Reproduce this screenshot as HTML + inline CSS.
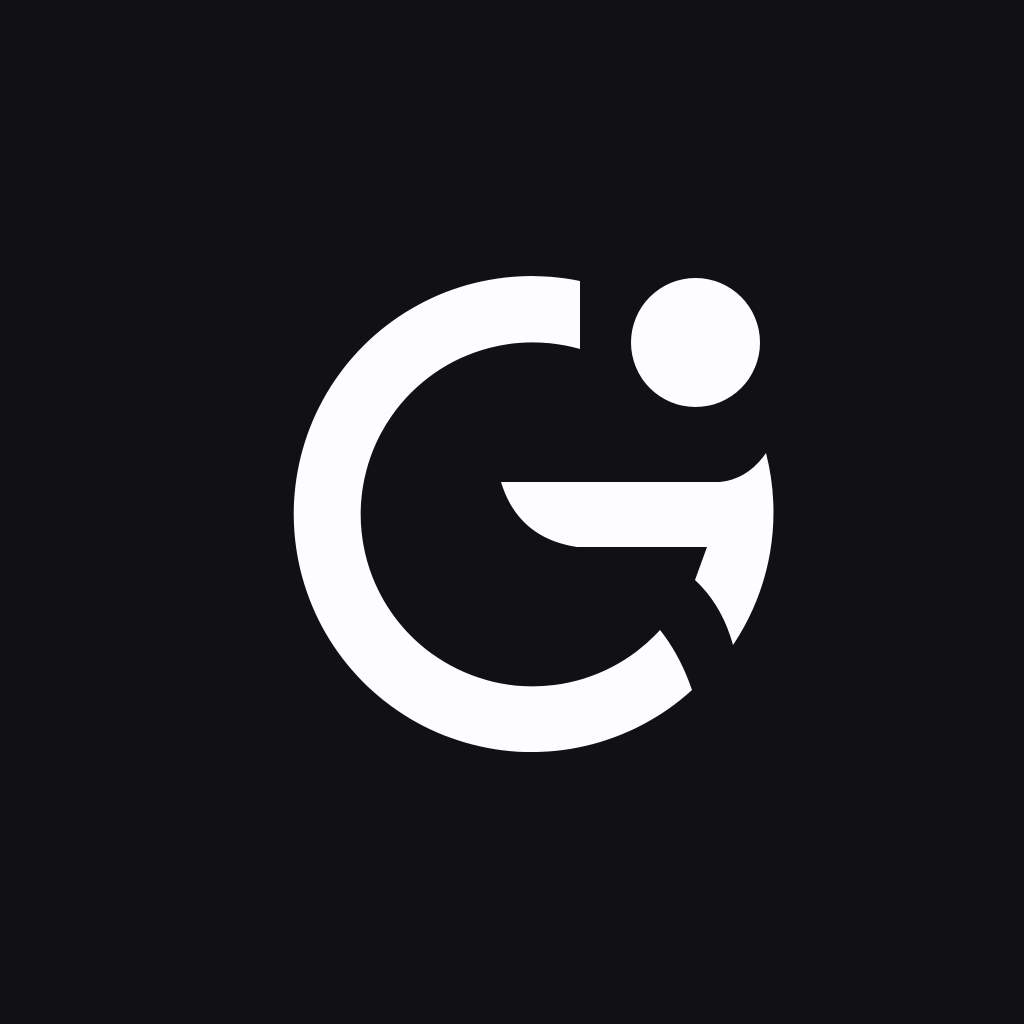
<!DOCTYPE html>
<html>
<head>
<meta charset="utf-8">
<style>
html,body{margin:0;padding:0;background:#111014;}
svg{display:block;}
</style>
</head>
<body>
<svg width="1024" height="1024" viewBox="0 0 1024 1024">
  <rect x="0" y="0" width="1024" height="1024" fill="#111014"/>
  <path fill="#fdfcfe"
    d="M580,281 A238 238 0 1 0 692,690 Q680,655 660,630 A172 172 0 1 1 580,349 Z"/>
  <path fill="#fdfcfe"
    d="M501,482 L720,482 Q748,479 766,453 A238 238 0 0 1 733,645 Q722,605 695,580 L707,547 L577,547 Q518,538 501,482 Z"/>
  <circle cx="695.5" cy="342.5" r="64.5" fill="#fdfcfe"/>
</svg>
</body>
</html>
